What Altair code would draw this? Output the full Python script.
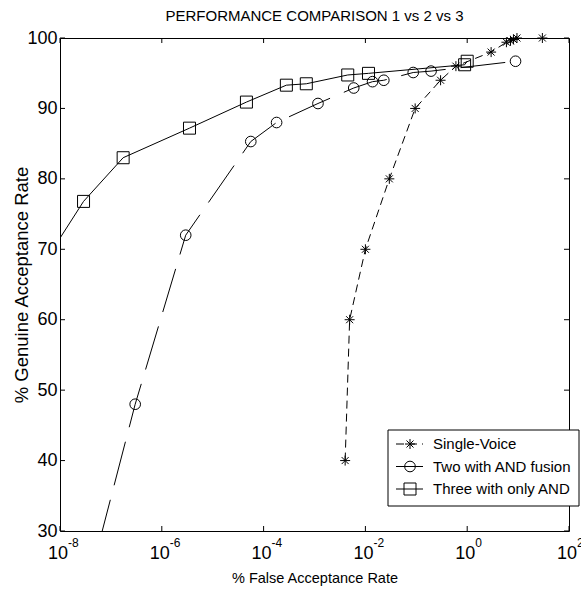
import altair as alt
import pandas as pd

FONT = "Liberation Sans, Arial, Helvetica, sans-serif"

# ---- data ----
single_far = [0.0040, 0.0049, 0.010, 0.0295, 0.095, 0.30, 0.60, 2.95, 5.9, 7.1, 8.1, 9.5, 30.0]
single_gar = [40, 60, 70, 80, 90, 94, 96, 98, 99.4, 99.6, 99.8, 100, 100]

two_far = [2.95e-8, 3.0e-7, 2.95e-6, 5.6e-5, 1.8e-4, 1.17e-3, 5.9e-3, 0.0138, 0.023, 0.087, 0.195, 8.9]
two_gar = [20, 48, 72, 85.3, 88.0, 90.7, 92.9, 93.8, 94.0, 95.1, 95.3, 96.7]

three_far = [3.2e-9, 2.9e-8, 1.74e-7, 3.5e-6, 4.6e-5, 2.8e-4, 6.9e-4, 4.5e-3, 0.0115, 0.89, 1.0]
three_gar = [66, 76.8, 83.0, 87.2, 90.9, 93.3, 93.5, 94.75, 94.98, 96.2, 96.7]

series_names = ["Single-Voice", "Two with AND fusion", "Three with only AND"]
x_tick_exps = [-8, -6, -4, -2, 0, 2]
y_ticks = [30, 40, 50, 60, 70, 80, 90, 100]

W, H = 509, 493

STAR = "M0,-1L0,1M-1,0L1,0M-0.7,-0.7L0.7,0.7M-0.7,0.7L0.7,-0.7"
styles = {
    "Single-Voice": dict(dash=[8, 5], shape=STAR, size=100),
    "Two with AND fusion": dict(dash=[45, 15], shape="circle", size=113),
    "Three with only AND": dict(dash=None, shape="square", size=144),
}

xs = alt.Scale(type="log", domain=[1e-8, 100])
ys = alt.Scale(domain=[30, 100])
xax = alt.Axis(title="% False Acceptance Rate", labels=False, ticks=False, domain=False,
               grid=False, titlePadding=40, titleFontSize=14.5, titleFont=FONT,
               titleFontWeight="normal", titleColor="black")
yax = alt.Axis(title="% Genuine Acceptance Rate", values=y_ticks, ticks=False, domain=False,
               grid=False, labelFontSize=18, labelFont=FONT, labelColor="black",
               labelPadding=3, titleFontSize=18.5, titleFont=FONT,
               titleFontWeight="normal", titleColor="black",
               titleX=-33, titleY=H / 2, titleBaseline="alphabetic", titleAngle=270,
               titleAlign="center")

X = alt.X("far:Q", scale=xs, axis=xax)
Y = alt.Y("gar:Q", scale=ys, axis=yax)

layers = []
for name, far, gar in [("Single-Voice", single_far, single_gar),
                       ("Two with AND fusion", two_far, two_gar),
                       ("Three with only AND", three_far, three_gar)]:
    st = styles[name]
    df = pd.DataFrame({"far": far, "gar": gar})
    line_kw = dict(color="black", strokeWidth=1, clip=True)
    if st["dash"]:
        line_kw["strokeDash"] = st["dash"]
    layers.append(alt.Chart(df).mark_line(**line_kw).encode(x=X, y=Y))
    layers.append(
        alt.Chart(df).transform_filter("datum.far >= 1e-8")
        .mark_point(shape=st["shape"], size=st["size"], filled=False, color="black",
                    strokeWidth=1, opacity=1)
        .encode(x=X, y=Y)
    )

# inward ticks (MATLAB style)
xt = pd.DataFrame({"far": [10.0 ** e for e in x_tick_exps],
                   "exp": [str(e) for e in x_tick_exps]})
yt = pd.DataFrame({"gar": y_ticks})
layers.append(alt.Chart(xt).mark_rule(color="black", strokeWidth=1).encode(
    x=X, y=alt.value(H), y2=alt.value(H - 5)))
layers.append(alt.Chart(xt).mark_rule(color="black", strokeWidth=1).encode(
    x=X, y=alt.value(0), y2=alt.value(5)))
layers.append(alt.Chart(yt).mark_rule(color="black", strokeWidth=1).encode(
    y=Y, x=alt.value(0), x2=alt.value(5)))
layers.append(alt.Chart(yt).mark_rule(color="black", strokeWidth=1).encode(
    y=Y, x=alt.value(W - 5), x2=alt.value(W)))

# x tick labels 10^e
layers.append(alt.Chart(xt).mark_text(text="10", fontSize=18, font=FONT, align="center",
                                      baseline="alphabetic", dx=-2, color="black").encode(
    x=X, y=alt.value(H + 28)))
layers.append(alt.Chart(xt).mark_text(fontSize=12, font=FONT, align="left",
                                      baseline="alphabetic", dx=8, color="black").encode(
    x=X, y=alt.value(H + 16), text="exp:N"))

# legend box
layers.append(alt.Chart(pd.DataFrame({"a": [0]})).mark_rect(
    fill="white", stroke="black", strokeWidth=1).encode(
    x=alt.value(328), x2=alt.value(519), y=alt.value(392), y2=alt.value(468)))
for i, name in enumerate(series_names):
    st = styles[name]
    yy = 406 + i * 22.5
    dfn = pd.DataFrame({"name": [name]})
    rk = dict(color="black", strokeWidth=1)
    if name == "Single-Voice":
        rk["strokeDash"] = [8, 5]
    layers.append(alt.Chart(dfn).mark_rule(**rk).encode(
        x=alt.value(336), x2=alt.value(363), y=alt.value(yy)))
    layers.append(alt.Chart(dfn).mark_point(shape=st["shape"], size=st["size"], filled=False,
                                            color="black", strokeWidth=1, opacity=1).encode(
        x=alt.value(350), y=alt.value(yy)))
    layers.append(alt.Chart(dfn).mark_text(align="left", baseline="middle", fontSize=15,
                                           font=FONT, color="black").encode(
        x=alt.value(373), y=alt.value(yy), text="name:N"))

chart = alt.layer(*layers).properties(
    width=W, height=H,
    title=alt.Title("PERFORMANCE COMPARISON 1 vs 2 vs 3", fontSize=15, font=FONT,
                    fontWeight="normal", color="black", offset=5, anchor="middle"),
    padding={"left": 60, "top": 38, "right": 12, "bottom": 60},
    autosize="none",
    background="white",
).configure_view(stroke="black", strokeWidth=1)

chart.save("out.html", embed_options={"renderer": "svg", "actions": False})
